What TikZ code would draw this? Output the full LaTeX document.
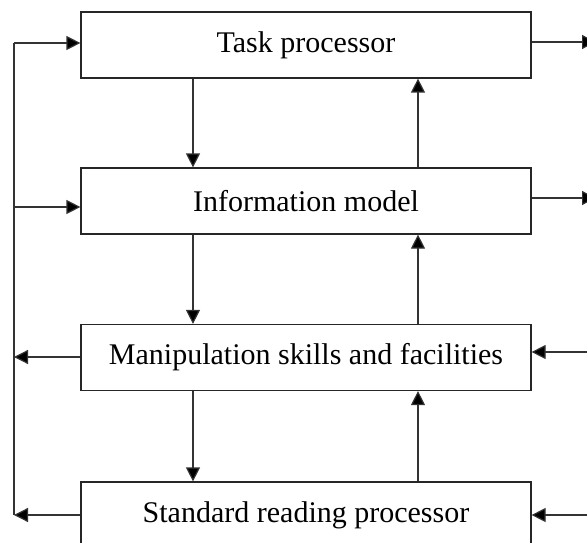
\documentclass[tikz,border=0pt]{standalone}
\usepackage{fontspec}
\setmainfont{Liberation Serif}
\usetikzlibrary{arrows.meta}
\begin{document}
\begin{tikzpicture}[x=1pt,y=-1pt,
  blk/.style={draw=black!85, line width=1.2pt, minimum width=450pt, minimum height=66pt, inner sep=0pt, font=\fontsize{30}{36}\selectfont},
  conn/.style={draw=black!80, line width=1.2pt, -{Triangle[length=14pt,width=14pt,fill=black]}},
  wire/.style={draw=black!80, line width=1.2pt}]
\useasboundingbox (0,0) rectangle (587,543);
\clip (0,0) rectangle (587,543);
\node[blk] (task)  at (306,45)    {Task processor};
\node[blk] (info)  at (306,201)   {Information model};
\node[blk] (manip) at (306,357.5) {Manipulation skills and facilities};
\node[blk] (std)   at (306,515)   {Standard reading processor};
% vertical connectors
\coordinate (dn) at (193,0);
\coordinate (up) at (418,0);
\draw[conn] (task.south -| dn) -- (info.north -| dn);
\draw[conn] (info.south -| dn) -- (manip.north -| dn);
\draw[conn] (manip.south -| dn) -- (std.north -| dn);
\draw[conn] (info.north -| up) -- (task.south -| up);
\draw[conn] (manip.north -| up) -- (info.south -| up);
\draw[conn] (std.north -| up) -- (manip.south -| up);
% left bus
\coordinate (lt) at (14,43);
\coordinate (li) at (14,207);
\coordinate (lm) at (14,357);
\coordinate (lb) at (14,515);
\draw[wire] (lt) -- (lb);
\draw[conn] (lt) -- (task.west |- lt);
\draw[conn] (li) -- (info.west |- li);
\draw[conn] (manip.west |- lm) -- (lm);
\draw[conn] (std.west |- lb) -- (lb);
% right side
\coordinate (rt) at (596,42);
\coordinate (ri) at (596,198);
\coordinate (rm) at (592,352);
\coordinate (rb) at (592,515);
\draw[conn] (task.east |- rt) -- (rt);
\draw[conn] (info.east |- ri) -- (ri);
\draw[conn] (rm) -- (manip.east |- rm);
\draw[conn] (rb) -- (std.east |- rb);
\end{tikzpicture}
\end{document}
